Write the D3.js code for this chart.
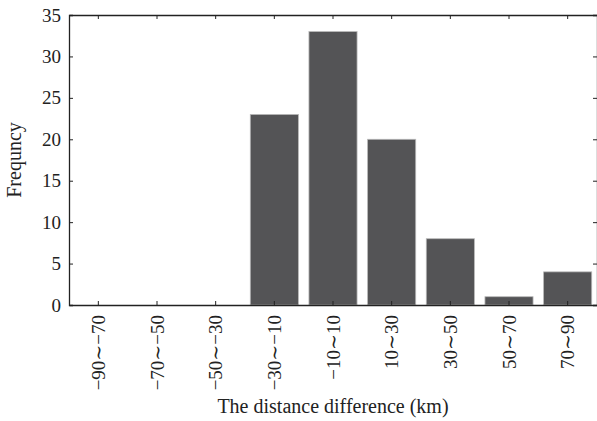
<!DOCTYPE html>
<html>
<head>
<meta charset="utf-8">
<script src="https://cdn.jsdelivr.net/npm/d3@7"></script>
<style>
  body { margin: 0; background: #fff; }
  text { font-family: "Liberation Serif", "DejaVu Serif", serif; fill: #222; }
</style>
</head>
<body>
<div id="chart"></div>
<script>
// data
var categories = ["−90∼−70", "−70∼−50", "−50∼−30", "−30∼−10", "−10∼10", "10∼30", "30∼50", "50∼70", "70∼90"];
var counts = [0, 0, 0, 23, 33, 20, 8, 1, 4];
var yTicks = [0, 5, 10, 15, 20, 25, 30, 35];

var W = 597, H = 421;
var margin = {top: 15, right: 0, bottom: 116, left: 69},
    width = W - margin.left - margin.right,
    height = H - margin.top - margin.bottom;

var svg = d3.select("#chart")
  .append("svg")
    .attr("width", W)
    .attr("height", H)
  .append("g")
    .attr("transform", "translate(" + margin.left + "," + margin.top + ")");

var x = d3.scaleBand()
    .domain(categories)
    .range([0, width])
    .paddingInner(0.18)
    .paddingOuter(0.09);

var y = d3.scaleLinear()
    .domain([0, 35])
    .range([height, 0]);

// bars
svg.append("g")
  .selectAll("rect")
  .data(categories.map(function(c, i) { return {cat: c, value: counts[i]}; }))
  .enter().append("rect")
    .attr("x", function(d) { return x(d.cat); })
    .attr("y", function(d) { return y(d.value); })
    .attr("width", x.bandwidth())
    .attr("height", function(d) { return height - y(d.value); })
    .attr("fill", "#545456")
    .attr("stroke", "#b8b8b8")
    .attr("stroke-width", 0.8);

// left axis
var left = svg.append("g")
    .call(d3.axisLeft(y).tickValues(yTicks).tickSize(-4).tickPadding(8));
left.selectAll("text").style("font-size", "19px");

// right axis (mostly off the page)
svg.append("g")
    .attr("transform", "translate(" + width + ",0)")
    .call(d3.axisRight(y).tickValues(yTicks).tickSize(-4).tickFormat(""));

// bottom axis
var bottom = svg.append("g")
    .attr("transform", "translate(0," + height + ")")
    .call(d3.axisBottom(x).tickSize(-4).tickSizeOuter(0));
bottom.selectAll("text")
    .attr("transform", "rotate(-90)")
    .attr("x", -10)
    .attr("y", 0)
    .attr("dy", "0.35em")
    .style("text-anchor", "end")
    .style("font-size", "19px");

// top axis
svg.append("g")
    .call(d3.axisTop(x).tickSize(-4).tickSizeOuter(0).tickFormat(""));

svg.selectAll(".domain").attr("stroke", "#222").attr("stroke-width", 1.3);
svg.selectAll(".tick line").attr("stroke", "#222");

// titles
svg.append("text")
    .attr("x", width / 2)
    .attr("y", height + 108)
    .style("text-anchor", "middle")
    .style("font-size", "20px")
    .text("The distance difference (km)");

svg.append("text")
    .attr("transform", "rotate(-90)")
    .attr("x", -145)
    .attr("y", -48)
    .style("text-anchor", "middle")
    .style("font-size", "20px")
    .text("Frequncy");
</script>
</body>
</html>
